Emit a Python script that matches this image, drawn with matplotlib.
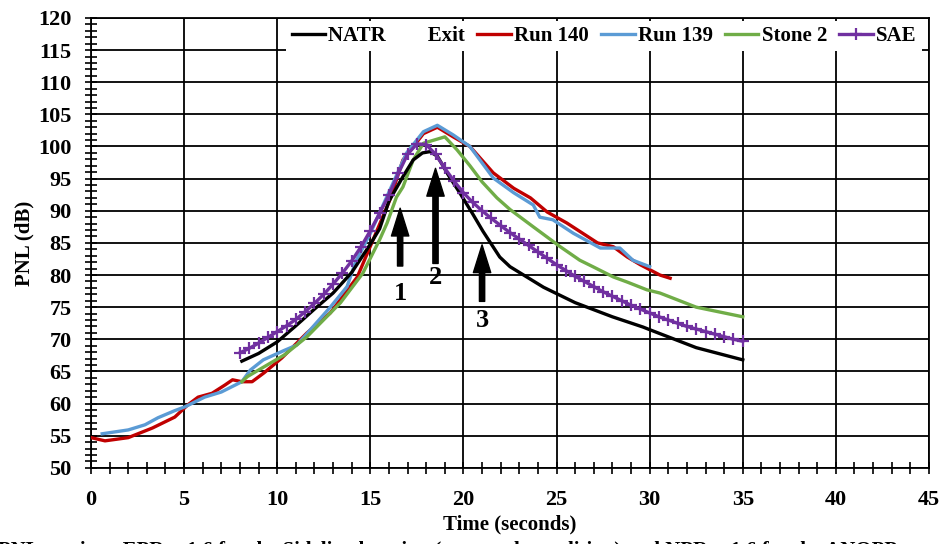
#PNL time histories for the sideline case: measured runs, Stone 2 and SAE vs NATR exit

import numpy as np
import matplotlib.pyplot as plt

plt.rcParams['font.family'] = ['Liberation Serif', 'DejaVu Serif']
plt.rcParams['font.weight'] = 'bold'

#NATR exit
t_natr = [8.1, 9.0, 10.0, 11.0, 12.0, 13.0, 14.0, 15.0, 15.5, 16.0, 16.75, 17.3, 17.8,
          18.2, 18.6, 19.2, 19.8, 20.5, 21.05, 21.95, 22.5, 24.3, 26.0, 27.0, 28.0,
          29.65, 30.0, 32.5, 35.0]
pnl_natr = [66.6, 67.8, 69.6, 72.1, 74.7, 77.2, 80.4, 84.8, 87.2, 91.5, 95.3, 97.9, 99.0,
            99.2, 98.5, 95.5, 92.8, 89.5, 86.8, 82.8, 81.3, 78.1, 75.7, 74.6, 73.5,
            71.9, 71.5, 68.7, 66.8]

#Run 140
t_r140 = [0.0, 0.75, 2.0, 3.3, 4.5, 5.2, 5.75, 6.5, 7.2, 7.6, 8.1, 8.65, 9.3, 10.25,
          11.6, 12.85, 14.3, 15.15, 16.05, 16.75, 17.85, 18.6, 19.45, 20.35, 21.6,
          22.7, 23.6, 24.5, 25.55, 27.2, 28.05, 28.8, 29.5, 30.55, 31.1]
pnl_r140 = [54.7, 54.2, 54.7, 56.2, 57.9, 59.8, 61.0, 61.6, 62.9, 63.7, 63.4, 63.4, 64.8, 67.1,
            71.0, 74.1, 79.7, 85.5, 91.7, 97.9, 102.0, 103.0, 101.5, 100.0, 95.9,
            93.5, 92.0, 89.8, 88.1, 85.0, 84.4, 82.8, 81.6, 80.0, 79.5]

#Run 139
t_r139 = [0.6, 2.0, 2.9, 3.6, 4.5, 5.05, 6.1, 7.0, 8.1, 8.55, 9.25, 10.4, 11.05, 12.85,
          13.75, 14.2, 15.0, 16.95, 17.85, 18.6, 19.45, 20.35, 21.6, 22.7, 23.75,
          24.1, 24.8, 25.9, 27.35, 28.4, 29.1, 30.0]
pnl_r139 = [55.3, 55.9, 56.7, 57.8, 58.9, 59.5, 61.0, 61.8, 63.4, 65.2, 66.8, 68.3, 69.1, 75.0,
            78.2, 82.0, 86.5, 99.0, 102.3, 103.3, 101.8, 100.0, 95.1, 92.8, 90.9,
            89.0, 88.6, 86.5, 84.2, 84.2, 82.3, 81.3]

#Stone 2
t_stone = [8.1, 8.4, 10.4, 11.6, 13.4, 14.6, 15.5, 15.9, 16.4, 16.75, 17.3, 17.85, 19.0,
           19.65, 20.35, 21.0, 21.8, 22.5, 23.75, 25.2, 26.25, 26.95, 28.05, 28.8,
           29.85, 30.55, 32.5, 35.0]
pnl_stone = [63.4, 64.2, 67.6, 70.4, 75.7, 80.3, 85.5, 88.1, 92.1, 93.7, 97.9, 100.5, 101.5,
             99.5, 97.0, 94.5, 92.0, 90.2, 87.5, 84.4, 82.3, 81.3, 79.7, 78.9,
             77.7, 77.2, 75.0, 73.5]

#SAE, every half second
t_sae = np.arange(8.0, 35.01, 0.5)
pnl_sae = [67.9, 68.6, 69.4, 70.3, 71.2, 72.1, 73.1, 74.3, 75.6, 77.0, 78.6, 80.3, 82.2,
           84.4, 86.9, 89.6, 92.5, 95.8, 98.8, 100.4, 100.3, 98.8, 96.6, 94.6, 92.8,
           91.3, 90.0, 88.8, 87.7, 86.6, 85.6, 84.6, 83.6, 82.6, 81.6, 80.7, 79.8,
           79.0, 78.2, 77.4, 76.7, 76.0, 75.3, 74.7, 74.1, 73.5, 73.0, 72.5, 72.0,
           71.6, 71.2, 70.8, 70.4, 70.0, 69.7]

#arrows: label, time, head, tail, label height
arrow_lbl = ['1', '2', '3']
arrow_t = [16.6, 18.5, 21.0]
arrow_head = [90.4, 96.6, 84.7]
arrow_tail = [81.4, 81.8, 75.9]
arrow_txt = [77.2, 79.6, 72.9]

fig = plt.figure(figsize=(9.49, 5.44), dpi=100)
ax = fig.add_axes([0.0959, 0.140, 0.883, 0.827])

lw = 2.4
ax.plot(t_natr, pnl_natr, color='black', lw=lw, label='NATR        Exit', zorder=5)
ax.plot(t_r140, pnl_r140, color='#c00000', lw=lw, label='Run 140', zorder=3)
ax.plot(t_r139, pnl_r139, color='#5b9bd5', lw=lw, label='Run 139', zorder=4)
ax.plot(t_stone, pnl_stone, color='#70ad47', lw=lw, label='Stone 2', zorder=4)
ax.plot(t_sae, pnl_sae, color='#7030a0', lw=lw, marker='+', ms=9, mew=1.6,
        label='SAE', zorder=6)

for lbl, t, h, tl, ty in zip(arrow_lbl, arrow_t, arrow_head, arrow_tail, arrow_txt):
    ax.annotate('', xy=(t, h), xytext=(t, tl),
                arrowprops=dict(facecolor='black', edgecolor='black', width=3.8,
                                headwidth=12.5, headlength=20, shrink=0))
    ax.text(t, ty, lbl, ha='center', va='center', fontsize=19, fontweight='bold')

ax.set_xlim(0, 45)
ax.set_ylim(50, 120)
ax.set_xticks(np.arange(0, 46, 5))
ax.set_yticks(np.arange(50, 121, 5))
ax.set_xticks(np.arange(0, 46, 1), minor=True)
ax.set_yticks(np.arange(50, 121, 1), minor=True)
ax.tick_params(which='both', direction='inout', length=8, width=1.2, labelsize=16)
ax.tick_params(axis='y', pad=10)
ax.tick_params(axis='x', pad=12)
ax.grid(which='major', color='black', lw=1.3)
ax.set_axisbelow(True)
for s in ax.spines.values():
    s.set_linewidth(1.3)

ax.set_xlabel('Time (seconds)', fontsize=15, fontweight='bold', labelpad=3)
ax.set_ylabel('PNL (dB)', fontsize=15, fontweight='bold', labelpad=3)

leg = ax.legend(loc='upper right', ncol=5, fontsize=15, frameon=True, fancybox=False,
                handlelength=1.6, handletextpad=0.15, columnspacing=0.6,
                borderpad=0.25, borderaxespad=0.15, bbox_to_anchor=(0.995, 1.0))
leg.get_frame().set_facecolor('white')
leg.get_frame().set_edgecolor('none')
leg.get_frame().set_alpha(1)

fig.text(-0.002, 0.006, 'PNL vs. time, EPR = 1.6 for the Sideline location (approach condition) and NPR = 1.6 for the ANOPP',
         fontsize=15, fontweight='bold', va='top', ha='left')

plt.savefig('out.png', dpi=100)
